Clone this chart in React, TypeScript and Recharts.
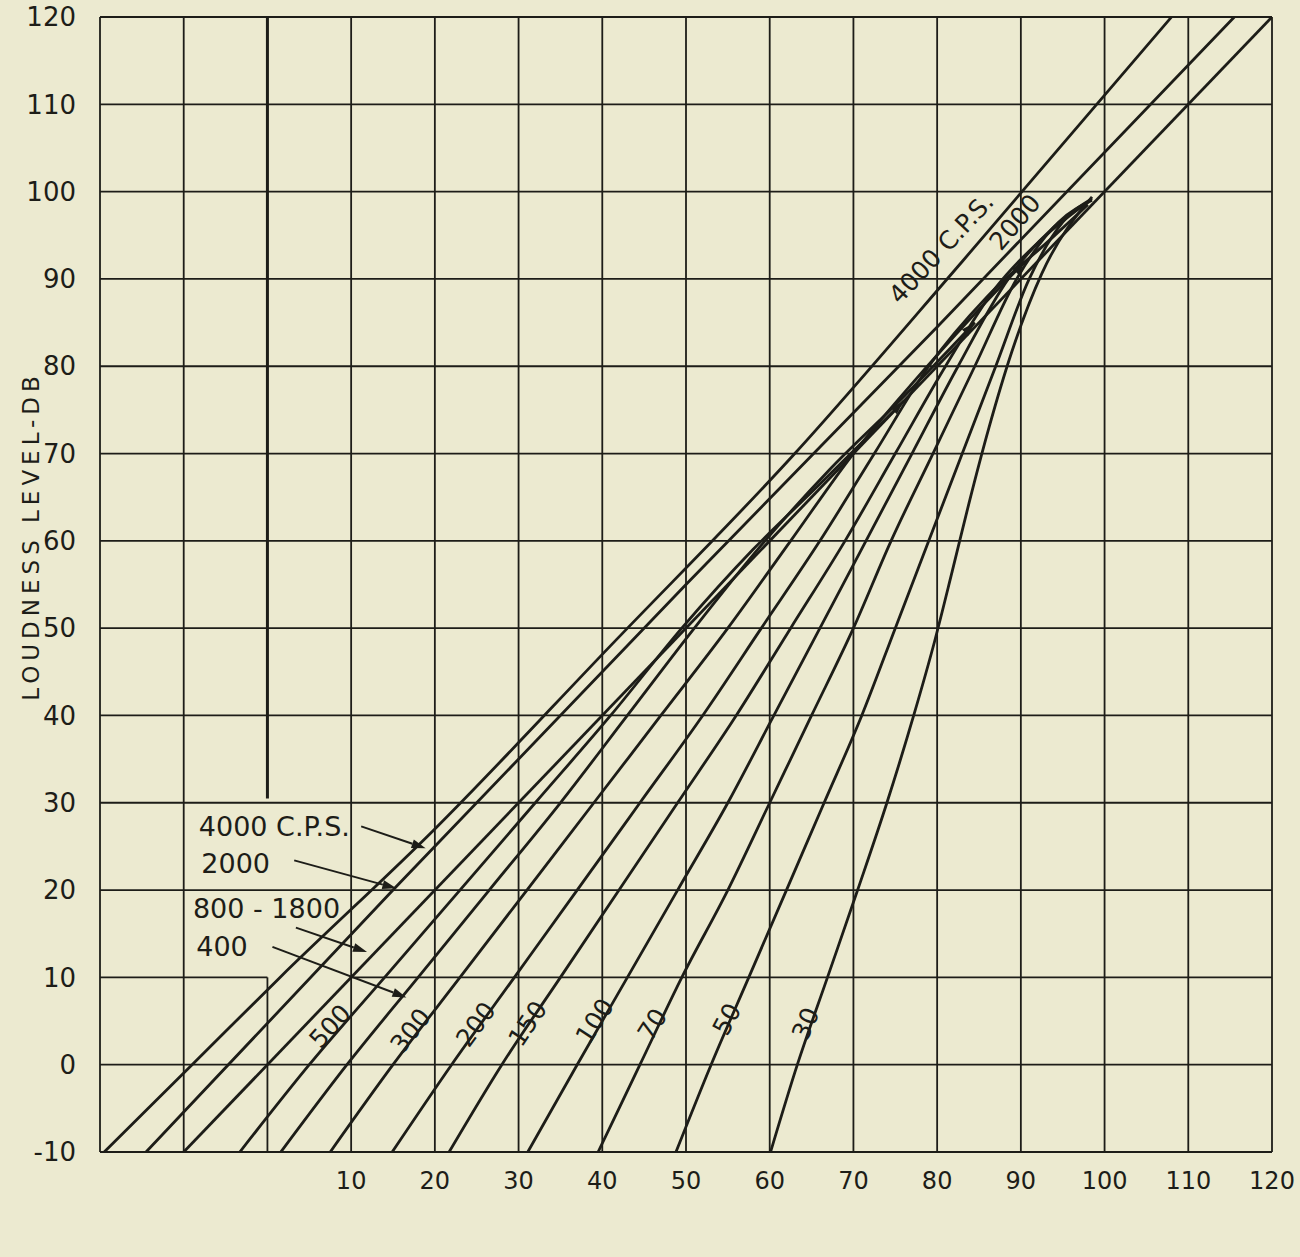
import { LineChart, Line, XAxis, YAxis, ReferenceLine, ReferenceDot } from "recharts";

// intensity level (x) and loudness level (y) ticks
const xTicks = [-20, -10, 0, 10, 20, 30, 40, 50, 60, 70, 80, 90, 100, 110, 120];
const yTicks = [-10, 0, 10, 20, 30, 40, 50, 60, 70, 80, 90, 100, 110, 120];

// curves: [intensity level, loudness level]
const f4000 = [[-19.5, -10], [-9, 0], [1.5, 10], [20, 27], [41, 48], [63, 70], [83, 92], [108, 120]];
const f2000 = [[-14.5, -10], [15, 20], [50, 55], [80, 84.5], [115.5, 120]];
const f800_1800 = [[-10, -10], [120, 120]];
const f500 = [[-3.3, -10], [5, 0], [14, 10], [23, 20], [32, 30], [41, 40], [49.5, 50], [58, 59], [66, 66.5], [76, 76]];
const f400 = [[1.6, -10], [9.5, 0], [18, 10], [26.5, 20], [35, 30], [43, 40], [51, 50], [59, 59.5], [67, 68], [76, 76.5], [84.5, 85]];
const f300 = [[7.5, -10], [15, 0], [23, 10], [31, 20], [39, 30], [47, 40], [55, 50], [62.5, 60], [70, 70], [77, 78], [84, 85.5], [90.5, 92]];
const f200 = [[14.9, -10], [22, 0], [29.5, 10], [37, 20], [44.5, 30], [52, 40], [59, 50], [66, 60], [72.5, 70], [79, 80], [86, 88], [93.5, 94.5], [98, 98.5]];
const f150 = [[21.7, -10], [28, 0], [35, 10], [42, 20], [49, 30], [56, 40], [62.5, 50], [69, 60], [75, 70], [81, 80], [87, 89], [93, 95], [98, 98.8]];
const f100 = [[31.1, -10], [37, 0], [43, 10], [49, 20], [55, 30], [60.5, 40], [66, 50], [71.5, 60], [77, 70], [82.5, 80], [88.5, 90], [94, 96], [98.3, 99]];
const f70 = [[39.5, -10], [44.5, 0], [49.5, 10], [55, 20], [60, 30], [65, 40], [70, 50], [74.5, 60], [79.5, 70], [84.5, 80], [89.5, 90], [94.5, 96.5], [98.5, 99]];
const f50 = [[48.8, -10], [53, 0], [57.5, 10], [62, 20], [66.5, 30], [71, 40], [75, 50], [79, 60], [83, 70], [87, 80], [91, 90], [95, 96.5], [98.5, 99.2]];
const f30 = [[60.1, -10], [63.3, 0], [66.9, 10], [70.5, 20], [74, 30], [77.2, 40], [79.7, 48.5], [81.8, 56.5], [83.8, 64.3], [86.2, 73], [88.9, 81.6], [92.5, 90.6], [98.5, 99.4]];

const curves = [
  { name: "4000", pts: f4000 },
  { name: "2000", pts: f2000 },
  { name: "800-1800", pts: f800_1800 },
  { name: "500", pts: f500 },
  { name: "400", pts: f400 },
  { name: "300", pts: f300 },
  { name: "200", pts: f200 },
  { name: "150", pts: f150 },
  { name: "100", pts: f100 },
  { name: "70", pts: f70 },
  { name: "50", pts: f50 },
  { name: "30", pts: f30 },
].map((c) => ({ name: c.name, data: c.pts.map(([x, y]) => ({ x, y })) }));

// curves that stop on the 800-1800 line end in an arrowhead
const arrowEnds = [f500, f400, f300].map((pts) => {
  const [x2, y2] = pts[pts.length - 1];
  const [x1, y1] = pts[pts.length - 2];
  const k = 2.5 / Math.hypot(x2 - x1, y2 - y1);
  return { from: [x2 - (x2 - x1) * k, y2 - (y2 - y1) * k], to: [x2, y2] };
});

const INK = "#1d1d18";
const PAPER = "#ecead0";
const FONT = "'DejaVu Sans', sans-serif";

// left-hand key with leader arrows
const keyLabels = [
  { text: "4000 C.P.S.", at: [-8.2, 26.2] },
  { text: "2000", at: [-7.9, 21.9] },
  { text: "800 - 1800", at: [-8.9, 16.8] },
  { text: "400", at: [-8.5, 12.4] },
];
const keyArrows = [
  { from: [11.2, 27.3], to: [18.9, 24.8] },
  { from: [3.2, 23.4], to: [15.4, 20.2] },
  { from: [3.4, 15.7], to: [11.9, 12.9] },
  { from: [0.6, 13.5], to: [16.6, 7.7] },
];

// labels written along the curves
const curveLabels = [
  { text: "500", at: [7.5, 4.4], angle: -48 },
  { text: "300", at: [17.1, 3.9], angle: -52 },
  { text: "200", at: [24.9, 4.6], angle: -54 },
  { text: "150", at: [31.1, 4.7], angle: -56 },
  { text: "100", at: [39.1, 5], angle: -57 },
  { text: "70", at: [46, 4.6], angle: -58 },
  { text: "50", at: [54.9, 5.2], angle: -62 },
  { text: "30", at: [64.3, 4.7], angle: -66 },
  { text: "4000 C.P.S.", at: [80.5, 93.5], angle: -47 },
  { text: "2000", at: [89.3, 96.5], angle: -50 },
];

const arrowShape = (L: number, w: number, shaft: boolean) => (p: any) => {
  const { x1, y1, x2, y2 } = p;
  const a = Math.atan2(y2 - y1, x2 - x1);
  const bx = x2 - L * Math.cos(a);
  const by = y2 - L * Math.sin(a);
  const pts = `${x2},${y2} ${bx - w * Math.sin(a)},${by + w * Math.cos(a)} ${bx + w * Math.sin(a)},${by - w * Math.cos(a)}`;
  return (
    <g>
      {shaft ? <line x1={x1} y1={y1} x2={bx} y2={by} stroke={INK} strokeWidth={2} /> : null}
      <polygon points={pts} fill={INK} />
    </g>
  );
};

const textShape = (text: string, angle: number, anchor: "start" | "middle", size: number) => (p: any) => (
  <text
    x={p.cx}
    y={p.cy}
    transform={`rotate(${angle} ${p.cx} ${p.cy})`}
    textAnchor={anchor}
    dominantBaseline={anchor === "middle" ? "central" : "auto"}
    fontSize={size}
    fontFamily={FONT}
    fill={INK}
  >
    {text}
  </text>
);

export default function App() {
  const gridStyle = { stroke: INK, strokeWidth: 1.8 };
  return (
    <div style={{ position: "absolute", left: 0, top: 0, width: 1300, height: 1257, background: PAPER }}>
      <LineChart width={1300} height={1257} margin={{ top: 17, right: 28, bottom: 0, left: 0 }}>
        <XAxis
          type="number"
          dataKey="x"
          domain={[-20, 120]}
          ticks={xTicks}
          interval={0}
          allowDataOverflow
          axisLine={false}
          tickLine={false}
          tickMargin={14}
          height={105}
          tickFormatter={(v: number) => (v >= 10 ? String(v) : "")}
          tick={{ fill: INK, fontSize: 24, fontFamily: FONT }}
        />
        <YAxis
          type="number"
          domain={[-10, 120]}
          ticks={yTicks}
          interval={0}
          allowDataOverflow
          width={100}
          axisLine={false}
          tickLine={false}
          tickMargin={18}
          tick={{ fill: INK, fontSize: 26, fontFamily: FONT }}
        />
        {yTicks
          .filter((v) => v !== 10)
          .map((v) => (
            <ReferenceLine key={`h${v}`} y={v} {...gridStyle} />
          ))}
        {/* the 10 db line is broken where the key's arrows cross it */}
        <ReferenceLine segment={[{ x: -20, y: 10 }, { x: 0, y: 10 }]} {...gridStyle} />
        <ReferenceLine segment={[{ x: 10, y: 10 }, { x: 120, y: 10 }]} {...gridStyle} />
        {xTicks
          .filter((v) => v !== 0)
          .map((v) => (
            <ReferenceLine key={`v${v}`} x={v} {...gridStyle} />
          ))}
        <ReferenceLine segment={[{ x: 0, y: -10 }, { x: 0, y: 10 }]} {...gridStyle} />
        <ReferenceLine segment={[{ x: 0, y: 30.5 }, { x: 0, y: 120 }]} stroke={INK} strokeWidth={3} />
        {curves.map((c) => (
          <Line
            key={c.name}
            data={c.data}
            dataKey="y"
            type="monotone"
            stroke={INK}
            strokeWidth={2.8}
            dot={false}
            isAnimationActive={false}
          />
        ))}
        {arrowEnds.map((a, i) => (
          <ReferenceLine
            key={`e${i}`}
            segment={[{ x: a.from[0], y: a.from[1] }, { x: a.to[0], y: a.to[1] }]}
            shape={arrowShape(14, 4.5, false)}
          />
        ))}
        {keyArrows.map((a, i) => (
          <ReferenceLine
            key={`a${i}`}
            segment={[{ x: a.from[0], y: a.from[1] }, { x: a.to[0], y: a.to[1] }]}
            shape={arrowShape(14, 4.5, true)}
          />
        ))}
        {keyLabels.map((l) => (
          <ReferenceDot key={`k${l.text}`} x={l.at[0]} y={l.at[1]} r={0} shape={textShape(l.text, 0, "start", 27)} />
        ))}
        {curveLabels.map((l) => (
          <ReferenceDot
            key={`c${l.text}${l.at[0]}`}
            x={l.at[0]}
            y={l.at[1]}
            r={0}
            shape={textShape(l.text, l.angle, "middle", 25)}
          />
        ))}
      </LineChart>
      <div
        style={{
          position: "absolute",
          left: 31,
          top: 536,
          transform: "translate(-50%, -50%) rotate(-90deg)",
          whiteSpace: "nowrap",
          fontFamily: FONT,
          fontSize: 23,
          letterSpacing: 5,
          color: INK,
        }}
      >
        LOUDNESS LEVEL-DB
      </div>
    </div>
  );
}
